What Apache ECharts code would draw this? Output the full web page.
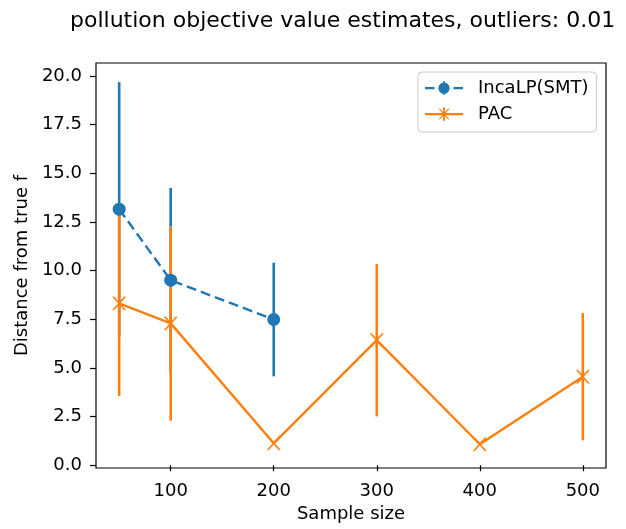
<!DOCTYPE html>
<html>
<head>
<meta charset="UTF-8">
<title>pollution objective value estimates</title>
<script src="https://cdn.jsdelivr.net/npm/echarts@6/dist/echarts.min.js"></script>
<style>
html, body { margin: 0; padding: 0; background: #fff; }
#chart { width: 626px; height: 529px; }
</style>
</head>
<body>
<div id="chart"></div>
<script>
// values
var incaX = [50, 100, 200];
var incaMean = [13.16, 9.51, 7.49];
var incaErr = [6.53, 4.74, 2.92];

var pacX = [50, 100, 200, 300, 400, 500];
var pacMean = [8.32, 7.29, 1.13, 6.43, 1.08, 4.55];
var pacErr = [4.76, 5.0, 0, 3.92, 0, 3.27];

var xTicks = [100, 200, 300, 400, 500];
var yTicks = [0, 2.5, 5, 7.5, 10, 12.5, 15, 17.5, 20];

var BLUE = '#1f77b4';
var ORANGE = '#ff7f0e';
var FONT = 'DejaVu Sans';

function pairs(xs, ys) {
    return xs.map(function (x, i) { return [x, ys[i]]; });
}
function bars(xs, ys, es) {
    return xs.map(function (x, i) { return [x, ys[i] - es[i], ys[i] + es[i]]; });
}
function errRender(color) {
    return function (params, api) {
        var a = api.coord([api.value(0), api.value(1)]);
        var b = api.coord([api.value(0), api.value(2)]);
        return {
            type: 'line',
            shape: { x1: a[0], y1: a[1], x2: b[0], y2: b[1] },
            style: { stroke: color, lineWidth: 2.6 }
        };
    };
}

var xMark = 'path://M14.3,2 L15.7,2 L25.7,12 L24.3,12 Z M24.3,2 L25.7,2 L15.7,12 L14.3,12 Z';
var incaIcon = 'path://M0,6 L10,6 L10,8.4 L0,8.4 Z M30,6 L40,6 L40,8.4 L30,8.4 Z M19,0 L21,0 L21,14 L19,14 Z M26,7.2 A6,6 0 1 1 14,7.2 A6,6 0 1 1 26,7.2 Z';
var pacIcon = 'path://M0,6 L40,6 L40,8.2 L0,8.2 Z M19,0 L21,0 L21,14 L19,14 Z M14.3,1.5 L15.9,1.5 L25.9,12.5 L24.3,12.5 Z M24.3,1.5 L25.9,1.5 L15.9,12.5 L14.3,12.5 Z';

var chart = echarts.init(document.getElementById('chart'));
chart.setOption({
    animation: false,
    backgroundColor: '#fff',
    title: {
        text: 'pollution objective value estimates, outliers: 0.01',
        left: 65, top: 5,
        textStyle: { fontFamily: FONT, fontSize: 22, fontWeight: 'normal', color: '#000' }
    },
    grid: {
        left: 96, right: 20, top: 63, bottom: 61,
        show: true, borderColor: '#000', borderWidth: 1.2, backgroundColor: 'transparent'
    },
    legend: {
        orient: 'vertical',
        left: 418, top: 72,
        padding: [7, 8, 9, 7],
        itemWidth: 38, itemHeight: 14, itemGap: 8,
        borderColor: '#cccccc', borderWidth: 1, borderRadius: 4,
        backgroundColor: 'rgba(255,255,255,0.8)',
        textStyle: { fontFamily: FONT, fontSize: 18, color: '#000', padding: [0, 0, 0, 10] },
        itemStyle: { borderWidth: 0 },
        lineStyle: { width: 0 },
        data: [
            { name: 'IncaLP(SMT)', icon: incaIcon, itemStyle: { color: BLUE, borderWidth: 0 } },
            { name: 'PAC', icon: pacIcon, itemStyle: { color: ORANGE, borderWidth: 0 } }
        ]
    },
    xAxis: {
        type: 'value', min: 27.5, max: 522.5,
        name: 'Sample size', nameLocation: 'middle', nameGap: 36,
        nameTextStyle: { fontFamily: FONT, fontSize: 18, color: '#000' },
        axisLine: { show: false },
        splitLine: { show: false },
        axisTick: { show: true, length: 6, lineStyle: { color: '#000', width: 1.2 }, customValues: xTicks },
        axisLabel: { fontFamily: FONT, fontSize: 18, color: '#000', margin: 14, customValues: xTicks }
    },
    yAxis: {
        type: 'value', min: -0.14, max: 20.67,
        name: 'Distance from true f', nameLocation: 'middle', nameGap: 60,
        nameTextStyle: { fontFamily: FONT, fontSize: 18, color: '#000' },
        axisLine: { show: false },
        splitLine: { show: false },
        axisTick: { show: true, length: 6, lineStyle: { color: '#000', width: 1.2 }, customValues: yTicks },
        axisLabel: {
            fontFamily: FONT, fontSize: 18, color: '#000', margin: 14, customValues: yTicks,
            formatter: function (v) { return v.toFixed(1); }
        }
    },
    series: [
        {
            name: 'IncaLP err', type: 'custom', z: 1,
            renderItem: errRender(BLUE),
            data: bars(incaX, incaMean, incaErr)
        },
        {
            name: 'PAC err', type: 'custom', z: 2,
            renderItem: errRender(ORANGE),
            data: bars(pacX, pacMean, pacErr)
        },
        {
            name: 'PAC', type: 'line', z: 3,
            data: pairs(pacX, pacMean),
            symbol: xMark, symbolSize: 13,
            itemStyle: { color: ORANGE, borderColor: ORANGE, borderWidth: 0.6 },
            lineStyle: { color: ORANGE, width: 2.4 }
        },
        {
            name: 'IncaLP(SMT)', type: 'line', z: 4,
            data: pairs(incaX, incaMean),
            symbol: 'circle', symbolSize: 13,
            itemStyle: { color: BLUE },
            lineStyle: { color: BLUE, width: 2.4, type: [10, 5] }
        }
    ]
});
</script>
</body>
</html>
